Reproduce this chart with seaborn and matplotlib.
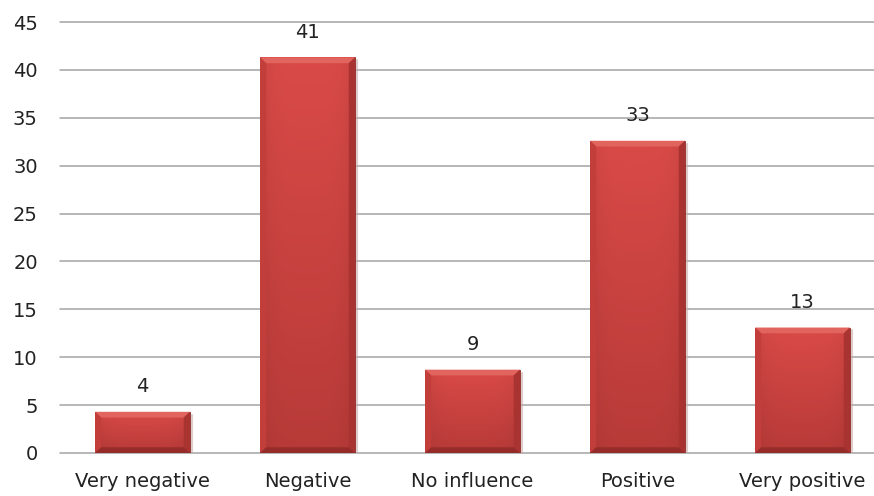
import numpy as np
import pandas as pd
import matplotlib
matplotlib.use("Agg")
import matplotlib.pyplot as plt
import seaborn as sns

categories = ["Very negative", "Negative", "No influence", "Positive", "Very positive"]
values = [4.3, 41.3, 8.7, 32.6, 13.1]
yticks = [0, 5, 10, 15, 20, 25, 30, 35, 40, 45]

sns.set_style("white")
plt.rcParams["font.family"] = ["DejaVu Sans"]

df = pd.DataFrame({"category": categories, "value": values})

fig = plt.figure(figsize=(8.74, 4.96), dpi=100)
# axes spans slightly past the right edge so the last slot is cut off
ax = fig.add_axes([60 / 874, (496 - 453) / 496, 825 / 874, 431 / 496])

sns.barplot(data=df, x="category", y="value", color="#d44845", width=0.575,
            saturation=1, ax=ax, zorder=3, edgecolor="#8a2a28", linewidth=0.6)

ax.set_ylim(0, 45)
ax.set_xlim(-0.5, 4.5)
ax.set_yticks(yticks)
ax.set_xlabel("")
ax.set_ylabel("")
for s in ax.spines.values():
    s.set_visible(False)
ax.yaxis.grid(True, color="#a3a3a3", linewidth=1.1, zorder=0)
for gl in ax.yaxis.get_gridlines():
    gl.set_clip_on(False)
ax.set_axisbelow(True)
ax.tick_params(axis="both", length=0, labelsize=14, colors="#222222")
ax.tick_params(axis="y", pad=16)
ax.tick_params(axis="x", pad=14)

# shaded fill with bevelled edges for every bar
ny, nx = 64, 32
yy = np.linspace(0, 1, ny)[:, None]
xx = np.linspace(0, 1, nx)[None, :]
top = np.array([0.85, 0.29, 0.28])
bottom = np.array([0.72, 0.23, 0.22])
for bar in ax.patches:
    x0, y0 = bar.get_x(), bar.get_y()
    w, h = bar.get_width(), bar.get_height()
    shade = 1 - 0.06 * (np.abs(xx - 0.5) * 2) ** 4
    base = bottom + (top - bottom) * yy[..., None]
    img = np.clip(base * shade[..., None], 0, 1)
    im = ax.imshow(img, extent=[x0, x0 + w, y0, y0 + h], origin="lower",
                   aspect="auto", zorder=3.5, interpolation="bicubic")
    im.set_clip_path(bar)
    # bevel strips
    bw = w * 0.065
    bh = 0.6
    ax.fill([x0, x0 + w, x0 + w - bw, x0 + bw], [y0 + h, y0 + h, y0 + h - bh, y0 + h - bh],
            color="#e2645f", zorder=4, lw=0)
    ax.fill([x0 + w, x0 + w, x0 + w - bw, x0 + w - bw], [y0 + h, y0, y0 + bh, y0 + h - bh],
            color="#a83331", zorder=4, lw=0)
    ax.fill([x0, x0, x0 + bw, x0 + bw], [y0 + h, y0, y0 + bh, y0 + h - bh],
            color="#c23e3b", zorder=4, lw=0)
    ax.fill([x0, x0 + w, x0 + w - bw, x0 + bw], [y0, y0, y0 + bh, y0 + bh],
            color="#962c2a", zorder=4, lw=0)
    ax.plot([x0 + w + 0.012, x0 + w + 0.012], [y0, y0 + h - 0.3], color="#c9a9a8",
            lw=1.5, zorder=2.9, alpha=0.6)

for bar, v in zip(ax.patches, values):
    ax.text(bar.get_x() + bar.get_width() / 2, v + 2.6, f"{v:.0f}",
            ha="center", va="center", fontsize=14, color="#222222", zorder=5)

fig.savefig("out.png", dpi=100)
